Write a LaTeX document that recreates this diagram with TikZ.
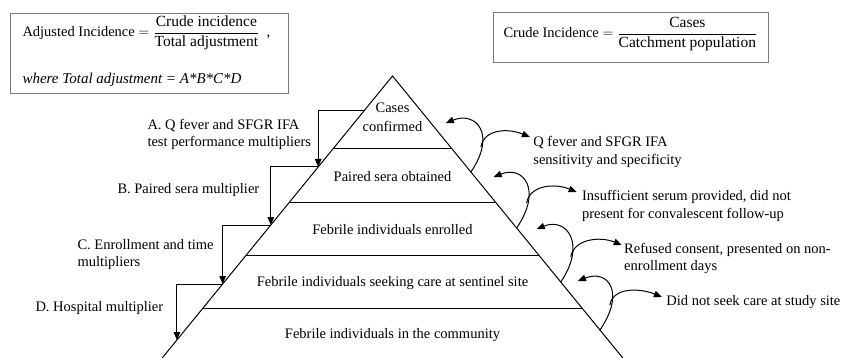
\documentclass[tikz,border=0pt]{standalone}
\usepackage{amsmath}
\usepackage{fontspec}
\setmainfont{Liberation Serif}
\usepackage{tikz}
\usetikzlibrary{arrows.meta,positioning,calc}
\definecolor{framegray}{HTML}{7A7A7A}
\newcommand{\fractext}[1]{\text{\fontsize{15.5}{17}\selectfont #1}}

\begin{document}
\begin{tikzpicture}[
  x=1pt, y=-1pt, line width=1pt,
  >={Triangle[length=8pt,width=6.5pt]},
  lbl/.style={font=\fontsize{14.5}{17.5}\selectfont, inner sep=0pt, align=left},
  layer/.style={font=\fontsize{14.5}{18.5}\selectfont, inner sep=0pt, align=center},
  frame/.style={draw=framegray, line width=0.9pt, inner sep=0pt},
  divider/.style={line width=0.9pt},
  mult/.style={->},
  loss/.style={->}]
\useasboundingbox (0,0) rectangle (841,358);

% formula boxes
\node[frame, anchor=north west, minimum width=278pt, minimum height=80pt] (adjbox) at (10,13) {};
\node[lbl, anchor=west] (adjform) at (22,33)
  {Adjusted Incidence $= \dfrac{\fractext{Crude incidence}}{\fractext{Total adjustment}}$\,\,\,,};
\node[lbl, anchor=west] (adjnote) at (22,80) {\fontsize{15}{17}\selectfont\itshape where Total adjustment = A*B*C*D};
\node[frame, anchor=north west, minimum width=275pt, minimum height=50pt] (crudebox) at (493,12) {};
\node[lbl, anchor=west] (crudeform) at (503,34)
  {Crude Incidence $= \dfrac{\fractext{Cases}}{\fractext{Catchment population}}$};

% pyramid
\coordinate (apex) at (392.5,76);
\coordinate (bl) at (162.2,358);
\coordinate (br) at (622.8,358);
\draw (bl) -- (apex) -- (br);
\draw[divider] ($(apex)!0.2553!(bl)$) -- ($(apex)!0.2553!(br)$);
\draw[divider] ($(apex)!0.4468!(bl)$) -- ($(apex)!0.4468!(br)$);
\draw[divider] ($(apex)!0.6348!(bl)$) -- ($(apex)!0.6348!(br)$);
\draw[divider] ($(apex)!0.8227!(bl)$) -- ($(apex)!0.8227!(br)$);

\node[layer] (cases) at (392.5,117.5) {Cases\\confirmed};
\node[layer] (paired) at (392.5,177) {Paired sera obtained};
\node[layer] (enrolled) at (392.5,230) {Febrile individuals enrolled};
\node[layer] (seeking) at (392.5,283) {Febrile individuals seeking care at sentinel site};
\node[layer] (community) at (392.5,335) {Febrile individuals in the community};

% multipliers (left)
\coordinate (m0) at ($(apex)!0.1206!(bl)$);
\coordinate (m1) at ($(apex)!0.3227!(bl)$);
\coordinate (m2) at ($(apex)!0.5284!(bl)$);
\coordinate (m3) at ($(apex)!0.7376!(bl)$);
\coordinate (m4) at ($(apex)!0.9362!(bl)$);
\draw[mult] (m0) -| (m1);
\draw[mult] (m1) -| (m2);
\draw[mult] (m2) -| (m3);
\draw[mult] (m3) -| (m4);

\node[lbl, anchor=west] (multA) at (147,134.5) {A. Q fever and SFGR IFA\\test performance multipliers};
\node[lbl, anchor=west] (multB) at (117,190) {B. Paired sera multiplier};
\node[lbl, anchor=west] (multC) at (77,254.5) {C. Enrollment and time\\multipliers};
\node[lbl, anchor=west] (multD) at (35,308) {D. Hospital multiplier};

% losses (right)
\coordinate (r1) at ($(apex)!0.3404!(br)$);
\coordinate (r2) at ($(apex)!0.5390!(br)$);
\coordinate (r3) at ($(apex)!0.7305!(br)$);
\coordinate (r4) at ($(apex)!0.9007!(br)$);
\coordinate (lt1) at ($(r1)+(-25,-49)$);
\coordinate (lt2) at ($(r2)+(-23,-51)$);
\coordinate (lt3) at ($(r3)+(-24,-53)$);
\coordinate (lt4) at ($(r4)+(-22,-49)$);
\coordinate (rt1) at ($(r1)+(59,-35)$);
\coordinate (rt2) at ($(r2)+(60,-36)$);
\coordinate (rt3) at ($(r3)+(61,-37)$);
\coordinate (rt4) at ($(r4)+(62,-33)$);
\coordinate (b1) at ($(r1)+(10,-25)$);
\coordinate (b2) at ($(r2)+(10,-25)$);
\coordinate (b3) at ($(r3)+(10,-25)$);
\coordinate (b4) at ($(r4)+(10,-25)$);

\draw[loss] (r1) .. controls +(26,-38) and +(30,-12) .. (lt1);
\draw[loss] (r2) .. controls +(26,-38) and +(30,-12) .. (lt2);
\draw[loss] (r3) .. controls +(26,-38) and +(30,-12) .. (lt3);
\draw[loss] (r4) .. controls +(26,-38) and +(30,-12) .. (lt4);
\draw[loss] (b1) .. controls +(3,-18) and +(-22,-9) .. (rt1);
\draw[loss] (b2) .. controls +(3,-18) and +(-22,-9) .. (rt2);
\draw[loss] (b3) .. controls +(3,-18) and +(-22,-9) .. (rt3);
\draw[loss] (b4) .. controls +(3,-18) and +(-22,-9) .. (rt4);

\node[lbl, anchor=west] (lossA) at ($(rt1)+(3,15)$) {Q fever and SFGR IFA\\sensitivity and specificity};
\node[lbl, anchor=west] (lossB) at ($(rt2)+(5,14)$) {Insufficient serum provided, did not\\present for convalescent follow-up};
\node[lbl, anchor=west] (lossC) at ($(rt3)+(2,13.5)$) {Refused consent, presented on non-\\enrollment days};
\node[lbl, anchor=west] (lossD) at ($(rt4)+(4,5)$) {Did not seek care at study site};
\end{tikzpicture}
\end{document}
